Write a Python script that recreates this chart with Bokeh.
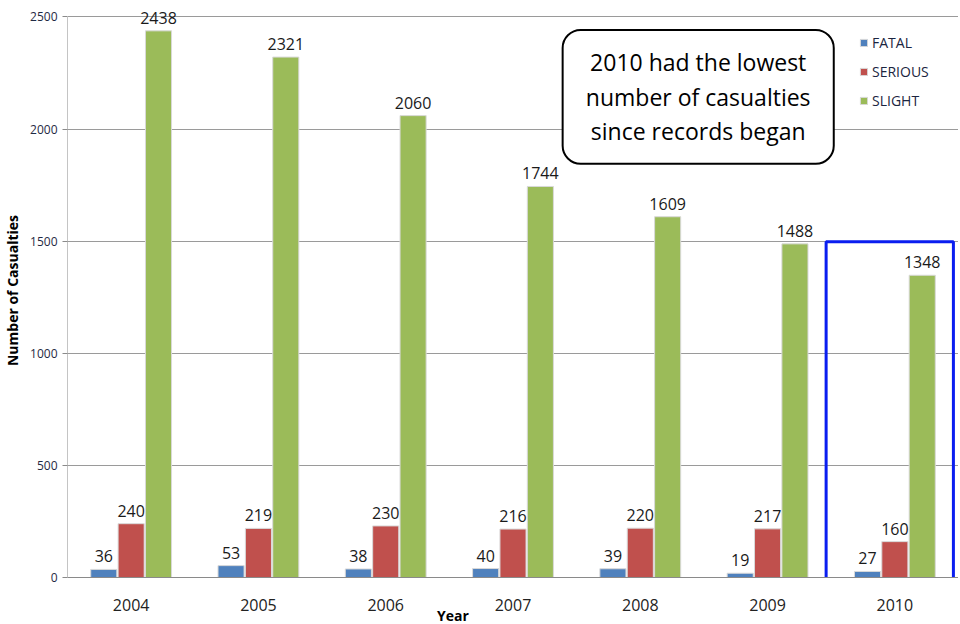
from bokeh.plotting import figure
from bokeh.models import ColumnDataSource, LabelSet, Legend, LegendItem, Range1d, FactorRange
from bokeh.core.properties import value
from bokeh.transform import dodge
from bokeh.embed import file_html
from bokeh.resources import INLINE

years = ["2004", "2005", "2006", "2007", "2008", "2009", "2010"]
fatal = [36, 53, 38, 40, 39, 19, 27]
serious = [240, 219, 230, 216, 220, 217, 160]
slight = [2438, 2321, 2060, 1744, 1609, 1488, 1348]
series_names = ["FATAL", "SERIOUS", "SLIGHT"]
series_colors = ["#4F81BD", "#C0504D", "#9BBB59"]
y_ticks = [0, 500, 1000, 1500, 2000, 2500]
callout_text = "2010 had the lowest\nnumber of casualties\nsince records began"
highlight_year = "2010"
x_title = "Year"

Y_TOP = 2560
p = figure(x_range=FactorRange(*years, range_padding=0), y_range=Range1d(0, Y_TOP),
           frame_width=891, frame_height=574,
           min_border_left=67, min_border_right=0, min_border_top=3, min_border_bottom=46,
           output_backend="svg", toolbar_location=None)
p.outline_line_color = None
p.background_fill_color = "white"

src = ColumnDataSource(dict(years=years, fatal=fatal, serious=serious, slight=slight))

# y axis line only up to the top tick
p.line(x=[0, 0], y=[0, y_ticks[-1]], line_color="#8a8a8a", line_width=1)

offsets = [-0.215, 0.0, 0.215]
renderers = []
for key, off, col in zip(["fatal", "serious", "slight"], offsets, series_colors):
    r = p.vbar(x=dodge("years", off, range=p.x_range), top=key, width=0.205, source=src,
               fill_color=col, line_color="#d9d9d9", line_width=1)
    renderers.append(r)
    lbl = LabelSet(x=dodge("years", off, range=p.x_range), y=key, text=key, source=src,
                   text_align="center", text_baseline="bottom", y_offset=7,
                   text_font=value("Open Sans"), text_font_size=value("16px"), text_color="#1a1a1a")
    p.add_layout(lbl)

# highlight box around 2010
hi = years.index(highlight_year)
p.quad(left=[hi - 0.04], right=[hi + 0.96], bottom=[-5], top=[1497],
       fill_color=None, line_color="#0A1EF0", line_width=3)

# callout box
p.quad(left=[3.89], right=[6.02], bottom=[1845], top=[2442], fill_color="white",
       line_color="black", line_width=2, border_radius=18)
p.text(x=[4.955], y=[2145], text=[callout_text], text_align="center", text_baseline="middle",
       text_font=value("Open Sans"), text_font_size="23px", text_color="black",
       text_line_height=1.09)

legend = Legend(items=[LegendItem(label=n, renderers=[r]) for n, r in zip(series_names, renderers)],
                location=(792, 467), border_line_color=None, background_fill_alpha=0,
                glyph_width=9, glyph_height=9, label_text_font="Open Sans",
                label_text_font_size="14px", label_text_color="#1B2540", spacing=10,
                label_height=18, padding=8, label_standoff=4)
p.add_layout(legend, "center")

p.xgrid.grid_line_color = None
p.ygrid.grid_line_color = "#9a9a9a"
p.ygrid.grid_line_width = 1
p.yaxis.ticker = y_ticks
p.yaxis.axis_line_color = None
p.yaxis.major_tick_line_color = "#8a8a8a"
p.yaxis.major_tick_out = 5
p.yaxis.major_tick_in = 0
p.yaxis.minor_tick_line_color = None
p.yaxis.major_label_standoff = 5
p.yaxis.major_label_text_font = "Open Sans"
p.yaxis.major_label_text_font_size = "12px"
p.yaxis.major_label_text_color = "#1F2A44"
p.yaxis.axis_label = "Number of Casualties"
p.yaxis.axis_label_text_font = "Open Sans"
p.yaxis.axis_label_text_font_style = "bold"
p.yaxis.axis_label_text_font_size = "14px"
p.yaxis.axis_label_text_color = "black"
p.yaxis.axis_label_standoff = 5

p.xaxis.axis_line_color = "#8a8a8a"
p.xaxis.major_tick_line_color = None
p.xaxis.major_label_text_font = "Open Sans"
p.xaxis.major_label_text_font_size = "16px"
p.xaxis.major_label_text_color = "#222222"
p.xaxis.major_label_standoff = 15
p.xaxis.axis_label = x_title + "\u00a0" * 33
p.xaxis.axis_label_text_font = "Open Sans"
p.xaxis.axis_label_text_font_style = "bold"
p.xaxis.axis_label_text_font_size = "14px"
p.xaxis.axis_label_text_color = "black"
p.xaxis.axis_label_standoff = -8

open("out.html", "w").write(file_html(p, INLINE))
